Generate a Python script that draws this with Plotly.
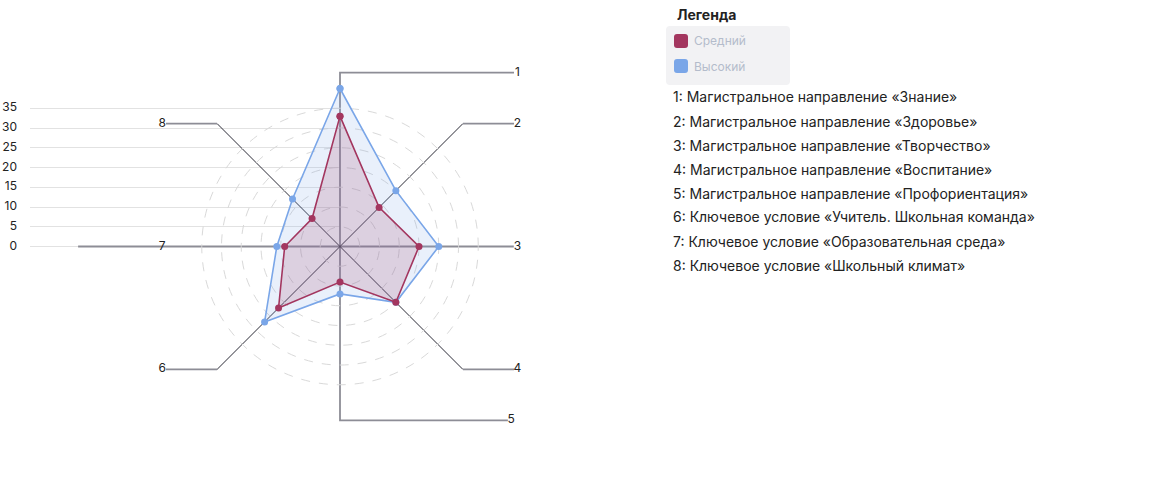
import math
import plotly.graph_objects as go

# --- data ---
axes_labels = ["1", "2", "3", "4", "5", "6", "7", "8"]
series_names = ["Средний", "Высокий"]
series_colors = ["#a3365f", "#7aa6e8"]
srednij = [33, 14, 20, 20, 9, 22, 14, 10]
vysokij = [40, 20, 25, 20, 12, 27, 16, 17]
y_ticks = [0, 5, 10, 15, 20, 25, 30, 35]
descriptions = [
    "1: Магистральное направление «Знание»",
    "2: Магистральное направление «Здоровье»",
    "3: Магистральное направление «Творчество»",
    "4: Магистральное направление «Воспитание»",
    "5: Магистральное направление «Профориентация»",
    "6: Ключевое условие «Учитель. Школьная команда»",
    "7: Ключевое условие «Образовательная среда»",
    "8: Ключевое условие «Школьный климат»",
]

W, H = 1153, 500
K = 3.95          # px per unit
CX, CY = 340, 246.5
R_MAX = 44        # spoke length in units
FONT = "Inter, 'Noto Sans', sans-serif"


# page pixel -> paper fraction (body margin is removed below)
def px_x(p):
    return p / W


def px_y(p):
    return 1 - p / H


def rounded_rect(x0, y0, x1, y1, rr):
    return (f"M {px_x(x0 + rr)},{px_y(y0)} L {px_x(x1 - rr)},{px_y(y0)} "
            f"Q {px_x(x1)},{px_y(y0)} {px_x(x1)},{px_y(y0 + rr)} "
            f"L {px_x(x1)},{px_y(y1 - rr)} Q {px_x(x1)},{px_y(y1)} {px_x(x1 - rr)},{px_y(y1)} "
            f"L {px_x(x0 + rr)},{px_y(y1)} Q {px_x(x0)},{px_y(y1)} {px_x(x0)},{px_y(y1 - rr)} "
            f"L {px_x(x0)},{px_y(y0 + rr)} Q {px_x(x0)},{px_y(y0)} {px_x(x0 + rr)},{px_y(y0)} Z")


fig = go.Figure()

# left value axis: horizontal gridlines that stop at the centre
fig.add_trace(go.Scatter(x=[None], y=[None], xaxis="x", yaxis="y",
                         showlegend=False, hoverinfo="skip"))

# spokes + callouts on a full-page overlay with the same scale
d = R_MAX * math.cos(math.pi / 4)
main_gray = "#8d8d96"
dark = "#2b2b36"
spokes = [
    ([(0, 0), (0, R_MAX), (44.05, R_MAX)], main_gray, 1.8),
    ([(0, 0), (R_MAX, 0)], main_gray, 1.8),
    ([(0, 0), (0, -R_MAX), (42.5, -R_MAX)], main_gray, 1.8),
    ([(0, 0), (-66.3, 0)], main_gray, 1.8),
]
diag = [(d, d, 44.05), (d, -d, 44.05), (-d, -d, -44.05), (-d, d, -44.05)]
for sx, sy, ex in diag:
    spokes.append(([(0, 0), (sx, sy)], dark, 1))
    spokes.append(([(sx, sy), (ex, sy)], main_gray, 1.8))

for pts, col, w in spokes:
    fig.add_trace(go.Scatter(
        x=[p[0] for p in pts], y=[p[1] for p in pts],
        xaxis="x2", yaxis="y2", mode="lines",
        line=dict(color=col, width=w), showlegend=False, hoverinfo="skip",
    ))

label_pos = [(44.9, R_MAX), (44.9, d), (44.9, 0), (44.9, -d), (43.3, -R_MAX),
             (-45.0, -d), (-45.0, 0), (-45.0, d)]
fig.add_trace(go.Scatter(
    x=[p[0] for p in label_pos], y=[p[1] for p in label_pos],
    xaxis="x2", yaxis="y2", mode="text", text=axes_labels,
    textfont=dict(size=12, color="#222", family=FONT),
    showlegend=False, hoverinfo="skip", cliponaxis=False,
))

# value labels of the left axis (right edge at page x=17)
fig.add_trace(go.Scatter(
    x=[(17 - CX) / K] * len(y_ticks), y=y_ticks,
    xaxis="x2", yaxis="y2", mode="text", text=[str(v) for v in y_ticks],
    textposition="middle left",
    textfont=dict(size=12, color="#222", family=FONT),
    showlegend=False, hoverinfo="skip", cliponaxis=False,
))

# radar series
for name, vals, col, alpha in [
    (series_names[1], vysokij, series_colors[1], 0.17),
    (series_names[0], srednij, series_colors[0], 0.17),
]:
    r, g, b = int(col[1:3], 16), int(col[3:5], 16), int(col[5:7], 16)
    fig.add_trace(go.Scatterpolar(
        r=vals + vals[:1], theta=axes_labels + axes_labels[:1],
        name=name, mode="lines+markers", fill="toself",
        fillcolor=f"rgba({r},{g},{b},{alpha})",
        line=dict(color=col, width=1.6),
        marker=dict(color=col, size=7),
        showlegend=False,
    ))

rad = R_MAX * K
y_range = [(CY - H) / K, CY / K]
fig.update_layout(
    width=W, height=H,
    margin=dict(l=0, r=0, t=0, b=0),
    paper_bgcolor="white", plot_bgcolor="rgba(0,0,0,0)",
    font=dict(family=FONT, color="#222"),
    xaxis=dict(domain=[px_x(30), px_x(CX)], range=[(30 - CX) / K, 0],
               visible=False, fixedrange=True, automargin=False),
    yaxis=dict(domain=[0, 1], range=y_range,
               tickvals=y_ticks, showgrid=True, gridcolor="#e2e2e2",
               gridwidth=1, zeroline=False, showline=False,
               ticks="", showticklabels=False, fixedrange=True, automargin=False),
    xaxis2=dict(domain=[0, 1], range=[-CX / K, (W - CX) / K],
                anchor="y2", visible=False, fixedrange=True, automargin=False),
    yaxis2=dict(domain=[0, 1], range=y_range, anchor="x2",
                visible=False, fixedrange=True, automargin=False),
    polar=dict(
        domain=dict(x=[px_x(CX - rad), px_x(CX + rad)],
                    y=[px_y(CY + rad), px_y(CY - rad)]),
        bgcolor="rgba(0,0,0,0)",
        radialaxis=dict(range=[0, R_MAX], tickvals=y_ticks[1:],
                        showticklabels=False, ticks="", showline=False,
                        gridcolor="#d9d9d9", griddash="dash", gridwidth=1),
        angularaxis=dict(rotation=90, direction="clockwise",
                         showgrid=False, showline=False,
                         showticklabels=False, ticks=""),
    ),
    showlegend=False,
)

# legend block (drawn by hand)
shapes = [dict(type="path", xref="paper", yref="paper",
               path=rounded_rect(666, 26, 790, 85, 4),
               fillcolor="#f2f2f4", line=dict(width=0), layer="below")]
for i, (name, col) in enumerate(zip(series_names, series_colors)):
    top = 34 + i * 25
    shapes.append(dict(type="path", xref="paper", yref="paper",
                       path=rounded_rect(674, top, 688, top + 14, 3),
                       fillcolor=col, line=dict(width=0)))
    fig.add_annotation(x=px_x(693), y=px_y(top + 7), xref="paper", yref="paper",
                       text=name, showarrow=False, xanchor="left", yanchor="middle",
                       borderpad=0, font=dict(size=12, color="#b4bccb", family=FONT))
fig.update_layout(shapes=shapes)

fig.add_annotation(x=px_x(676), y=px_y(14), xref="paper", yref="paper",
                   text="<b>Легенда</b>", showarrow=False, xanchor="left",
                   yanchor="middle", borderpad=0,
                   font=dict(size=14, color="#222", family=FONT))
for i, line in enumerate(descriptions):
    fig.add_annotation(x=px_x(672), y=px_y(97 + i * 24), xref="paper", yref="paper",
                       text=line, showarrow=False, xanchor="left", yanchor="middle",
                       borderpad=0, font=dict(size=14, color="#222", family=FONT))

fig.write_html("out.html", config={"displayModeBar": False},
               post_script="document.body.style.margin = '0';")
